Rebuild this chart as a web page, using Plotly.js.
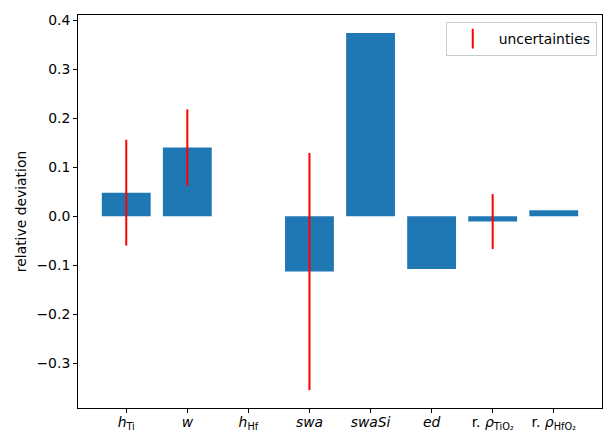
<!DOCTYPE html>
<html>
<head>
<meta charset="utf-8">
<script src="https://cdn.plot.ly/plotly-3.0.1.min.js"></script>
<style>html,body{margin:0;padding:0;background:#fff;}#chart{width:603px;height:431px;}</style>
</head>
<body>
<div id="chart"></div>
<script>
const categories = ["<i>h</i><sub>Ti</sub>", "<i>w</i>", "<i>h</i><sub>Hf</sub>", "<i>swa</i>", "<i>swaSi</i>", "<i>ed</i>", "r. <i>ρ</i><sub>TiO₂</sub>", "r. <i>ρ</i><sub>HfO₂</sub>"];
const deviations = [0.048, 0.140, 0.0, -0.113, 0.374, -0.108, -0.011, 0.012];
const uncertainties = [0.108, 0.078, null, 0.242, null, null, 0.056, null];

const positions = categories.map((_, i) => i);
const errY = deviations.map((v, i) => uncertainties[i] === null ? null : v);
const errV = uncertainties.map(u => u === null ? 0 : u);

const font = {family: "DejaVu Sans, sans-serif", size: 13.9, color: "#000"};

const traces = [
  {
    type: "bar", x: positions, y: deviations, width: 0.8,
    marker: {color: "#1f77b4", line: {width: 0}},
    showlegend: false, hoverinfo: "skip"
  },
  {
    type: "scatter", mode: "markers", x: positions, y: errY,
    marker: {size: 0.1, opacity: 0},
    error_y: {type: "data", array: errV, visible: true, color: "red", thickness: 2, width: 0},
    showlegend: false, hoverinfo: "skip"
  },
  {
    type: "scatter", mode: "markers", x: [null], y: [null], name: "uncertainties",
    marker: {symbol: "line-ns-open", size: 14, color: "red", line: {color: "red", width: 2}},
    showlegend: true
  }
];

const layout = {
  width: 603, height: 431,
  margin: {l: 78, r: 1, t: 15, b: 23},
  paper_bgcolor: "#fff", plot_bgcolor: "#fff",
  font: font,
  xaxis: {
    range: [-0.79, 7.79], tickmode: "array", tickvals: positions, ticktext: categories,
    showgrid: false, zeroline: false, showline: true, mirror: true, linecolor: "#000", linewidth: 1,
    ticks: "outside", ticklen: 4, tickwidth: 1, tickcolor: "#000", tickfont: font,
    ticklabelstandoff: -3
  },
  yaxis: {
    range: [-0.3915, 0.4105], tickmode: "array",
    tickvals: [-0.3, -0.2, -0.1, 0, 0.1, 0.2, 0.3, 0.4],
    ticktext: ["−0.3", "−0.2", "−0.1", "0.0", "0.1", "0.2", "0.3", "0.4"],
    showgrid: false, zeroline: false, showline: true, mirror: true, linecolor: "#000", linewidth: 1,
    ticks: "outside", ticklen: 4, tickwidth: 1, tickcolor: "#000", tickfont: font,
    title: {text: "relative deviation", font: font, standoff: 6}
  },
  legend: {
    x: 0.99, y: 0.982, xanchor: "right", yanchor: "top",
    bordercolor: "#cccccc", borderwidth: 1, bgcolor: "rgba(255,255,255,0.8)",
    font: font, itemwidth: 42
  },
  showlegend: true
};

Plotly.newPlot("chart", traces, layout, {displayModeBar: false, staticPlot: true});
</script>
</body>
</html>
